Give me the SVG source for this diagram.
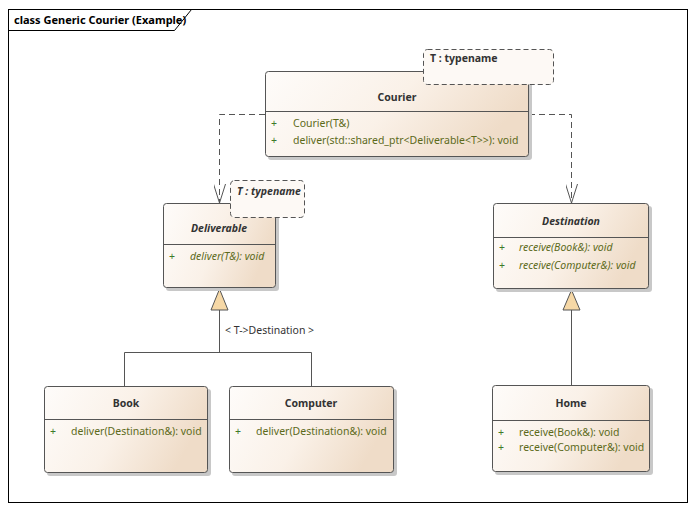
<svg xmlns="http://www.w3.org/2000/svg" width="695" height="510" viewBox="0 0 695 510">
<defs>
<linearGradient id="g" x1="0" y1="0" x2="1" y2="0.3">
<stop offset="0" stop-color="#fefcfa"/>
<stop offset="0.55" stop-color="#faf1e8"/>
<stop offset="1" stop-color="#efdcc8"/>
</linearGradient>
<marker id="open" viewBox="0 0 20 12" refX="19" refY="6" markerWidth="20" markerHeight="12" markerUnits="userSpaceOnUse" orient="auto">
<path d="M0,0 L19,6 L0,12" fill="none" stroke="#555" stroke-width="1"/>
</marker>
<style>
text{font-family:"Noto Sans","Open Sans",sans-serif;font-size:10.5px;fill:#333}
.title{font-weight:bold;text-anchor:middle}
.it{font-style:italic}
.m{fill:#5c6a1a}
.p{fill:#3d7a2a}
.box{fill:url(#g);stroke:#555;stroke-width:1}
.sh{fill:#c8c8c8}
.sep{stroke:#555;stroke-width:1}
.note{fill:#fdf9f5;stroke:#555;stroke-width:1;stroke-dasharray:5,3}
.c{fill:none;stroke:#555;stroke-width:1}
.d{fill:none;stroke:#555;stroke-width:1;stroke-dasharray:6,4}
.tri{fill:#f6d8a6;stroke:#555;stroke-width:1}
</style>
</defs>
<rect width="695" height="510" fill="#fff"/>
<!-- frame -->
<g id="frame">
<rect x="8.5" y="9.5" width="679" height="493" fill="none" stroke="#000" stroke-width="1"/>
<path d="M8.5,30.5 H174.5 L191.5,9.5" fill="none" stroke="#000" stroke-width="1"/>
<text x="14" y="24" style="font-size:11px;font-weight:bold;fill:#000">class Generic Courier (Example)</text>
</g>
<!-- connectors -->
<g id="connectors">
<path class="d" d="M265,114.5 H219.5 V203" marker-end="url(#open)"/>
<path class="d" d="M529,114.5 H571.5 V203" marker-end="url(#open)"/>
<path class="c" d="M124.5,386 V352.5 H311.5 V386 M219.5,352.5 V310"/>
<path class="tri" d="M219.5,289 L211,310 H228 Z"/>
<text x="225" y="334" style="font-size:10.5px">&lt; T-&gt;Destination &gt;</text>
<path class="c" d="M571.5,385 V310"/>
<path class="tri" d="M571.5,290 L563,310 H580 Z"/>
</g>
<!-- Courier -->
<g id="courier">
<rect class="sh" x="268" y="74" width="264" height="86" rx="3"/>
<rect class="box" x="265.5" y="71.5" width="263" height="85" rx="3"/>
<line class="sep" x1="265.5" y1="111.5" x2="528.5" y2="111.5"/>
<text class="title" x="397" y="101">Courier</text>
<text class="p" x="271" y="127">+</text><text class="m" x="293" y="127">Courier(T&amp;)</text>
<text class="p" x="271" y="144">+</text><text class="m" x="293" y="144">deliver(std::shared_ptr&lt;Deliverable&lt;T&gt;&gt;): void</text>
</g>
<g id="courier-template">
<rect class="note" x="423.5" y="49.5" width="130" height="35" rx="4"/>
<text x="430" y="62" style="font-weight:bold">T : typename</text>
</g>
<!-- Deliverable -->
<g id="deliverable">
<rect class="sh" x="166" y="206" width="113" height="85" rx="3"/>
<rect class="box" x="163.5" y="203.5" width="112" height="84" rx="3"/>
<line class="sep" x1="163.5" y1="244.5" x2="275.5" y2="244.5"/>
<text class="title it" x="219" y="232">Deliverable</text>
<text class="p" x="169" y="260">+</text><text class="m it" x="190" y="260">deliver(T&amp;): void</text>
</g>
<g id="deliverable-template">
<rect class="note" x="230.5" y="180.5" width="74" height="37" rx="4"/>
<text x="237" y="195" class="it" style="font-weight:bold">T : typename</text>
</g>
<!-- Destination -->
<g id="destination">
<rect class="sh" x="496" y="206" width="156" height="86" rx="3"/>
<rect class="box" x="493.5" y="203.5" width="155" height="85" rx="3"/>
<line class="sep" x1="493.5" y1="237.5" x2="648.5" y2="237.5"/>
<text class="title it" x="571" y="225">Destination</text>
<text class="p" x="499" y="251">+</text><text class="m it" x="519" y="251">receive(Book&amp;): void</text>
<text class="p" x="499" y="269">+</text><text class="m it" x="519" y="269">receive(Computer&amp;): void</text>
</g>
<!-- Book -->
<g id="book">
<rect class="sh" x="47" y="389" width="164" height="87" rx="3"/>
<rect class="box" x="44.5" y="386.5" width="163" height="86" rx="3"/>
<line class="sep" x1="44.5" y1="419.5" x2="207.5" y2="419.5"/>
<text class="title" x="126" y="407">Book</text>
<text class="p" x="50" y="435">+</text><text class="m" x="71" y="435">deliver(Destination&amp;): void</text>
</g>
<!-- Computer -->
<g id="computer">
<rect class="sh" x="232" y="389" width="165" height="87" rx="3"/>
<rect class="box" x="229.5" y="386.5" width="164" height="86" rx="3"/>
<line class="sep" x1="229.5" y1="419.5" x2="393.5" y2="419.5"/>
<text class="title" x="311" y="407">Computer</text>
<text class="p" x="235" y="435">+</text><text class="m" x="256" y="435">deliver(Destination&amp;): void</text>
</g>
<!-- Home -->
<g id="home">
<rect class="sh" x="495" y="388" width="158" height="87" rx="3"/>
<rect class="box" x="492.5" y="385.5" width="157" height="86" rx="3"/>
<line class="sep" x1="492.5" y1="420.5" x2="649.5" y2="420.5"/>
<text class="title" x="571" y="407">Home</text>
<text class="p" x="498" y="436">+</text><text class="m" x="519" y="436">receive(Book&amp;): void</text>
<text class="p" x="498" y="451">+</text><text class="m" x="519" y="451">receive(Computer&amp;): void</text>
</g>
</svg>
